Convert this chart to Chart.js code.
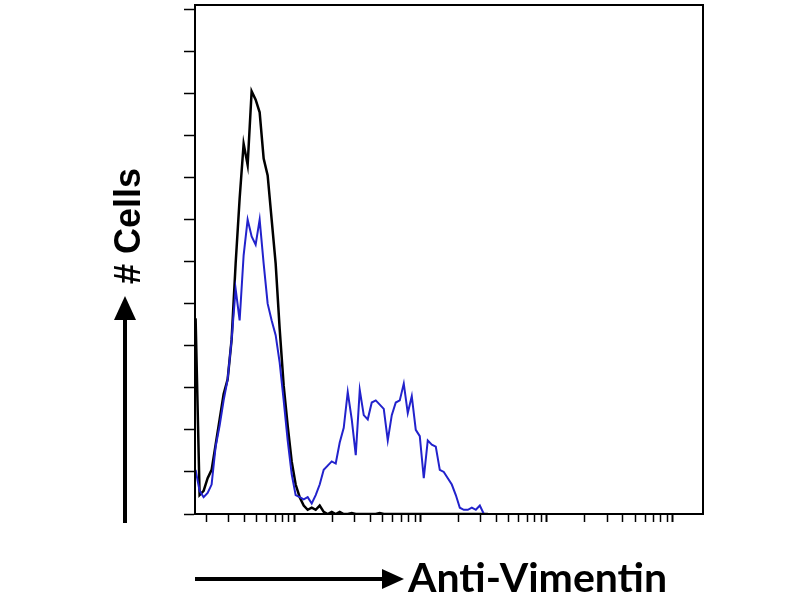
<!DOCTYPE html>
<html>
<head>
<meta charset="utf-8">
<script src="https://cdn.jsdelivr.net/npm/chart.js@4/dist/chart.umd.min.js"></script>
<style>
  html, body { margin: 0; padding: 0; background: #fff; }
  #wrap { width: 800px; height: 600px; }
</style>
</head>
<body>
<div id="wrap"><canvas id="histo" width="800" height="600"></canvas></div>
<script>
// fluorescence intensity of each histogram bin (log axis)
const intensity = [
    1.638, 1.762, 1.896, 2.040, 2.194, 2.361, 2.540, 2.733, 2.940, 3.162,
    3.402, 3.660, 3.937, 4.236, 4.557, 4.903, 5.275, 5.675, 6.105, 6.568,
    7.066, 7.603, 8.179, 8.799, 9.467, 10.18, 10.96, 11.79, 12.68, 13.65,
    14.68, 15.79, 16.99, 18.28, 19.67, 21.16, 22.76, 24.49, 26.35, 28.35,
    30.50, 32.81, 35.30, 37.97, 40.85, 43.95, 47.28, 50.87, 54.73, 58.88,
    63.34, 68.13, 73.30, 78.86, 84.84, 91.27, 98.19, 105.6, 113.6, 122.3,
    131.5, 141.5, 152.2, 163.8, 176.2, 189.6, 204.0, 219.4, 236.1, 254.0,
    273.3, 294.0, 316.2, 340.2
];

// control (black)
const controlCounts = [
    93, 9, 11, 17, 21, 33, 45, 57, 64, 83,
    119, 150, 176, 166, 201, 197, 191, 169, 161, 140,
    119, 88, 61, 42, 25, 14, 8, 4, 2, 3,
    2, 4, 1, 0, 1, 0, 1, 0, 0, 0.5,
    0, 0, 0, 0, 0, 0, 0.5, 0, 0, 0,
    0, 0, 0, 0, 0, 0, 0, 0, 0, 0,
    0, 0, 0, 0, 0, 0, 0, 0, 0, 0,
    0, 0, 0, 0
];

// anti-vimentin (blue)
const vimentinCounts = [
    21, 11, 8, 10, 14, 32, 42, 54, 64, 83,
    107, 92, 123, 140, 132, 128, 140, 119, 100, 92,
    85, 72, 54, 35, 19, 9, 8, 7, 8, 5,
    9, 14, 21, 23, 25, 24, 34, 41, 58, 45,
    28, 59, 47, 45, 53, 54, 52, 50, 35, 47,
    53, 54, 62, 48, 56, 40, 37, 17, 35, 33,
    32, 21, 20, 17, 14, 9, 3, 2, 2, 3,
    2, 4, 0, 0
];

const yTicks = [0, 20, 40, 60, 80, 100, 120, 140, 160, 180, 200, 220, 240];
const xDecades = [1, 10, 100, 1000, 10000];
const xSteps = [1, 2, 3, 4, 5, 6, 7, 8, 9];
const xMin = 1.62;
const xMax = 17300;
const yMax = 242;

const yLabel = '# Cells';
const xLabel = 'Anti-Vimentin';

function toPoints(counts) {
    return intensity.map((v, i) => ({ x: v, y: counts[i] }));
}

// frame, arrows and axis captions
const decorations = {
    id: 'decorations',
    afterDraw(chart) {
        const c = chart.ctx;
        const a = chart.chartArea;
        c.save();
        c.strokeStyle = '#000';
        c.fillStyle = '#000';
        c.lineWidth = 2;
        c.strokeRect(a.left, a.top, a.right - a.left, a.bottom - a.top);

        // up arrow
        c.lineWidth = 4;
        c.beginPath();
        c.moveTo(125, 523);
        c.lineTo(125, 315);
        c.stroke();
        c.beginPath();
        c.moveTo(125, 296);
        c.lineTo(136, 320);
        c.lineTo(114, 320);
        c.closePath();
        c.fill();

        // right arrow
        c.beginPath();
        c.moveTo(195, 579);
        c.lineTo(388, 579);
        c.stroke();
        c.beginPath();
        c.moveTo(404, 579);
        c.lineTo(382, 569);
        c.lineTo(382, 589);
        c.closePath();
        c.fill();

        c.font = 'bold 41px Lato';
        c.textAlign = 'left';
        c.textBaseline = 'alphabetic';
        c.fillText(xLabel, 408, 592);

        c.translate(140, 226);
        c.rotate(-Math.PI / 2);
        c.font = 'bold 36px "Liberation Sans"';
        c.textAlign = 'center';
        c.fillText(yLabel, 0, 0);
        c.restore();
    }
};

document.addEventListener('DOMContentLoaded', function() {
    const ctx = document.getElementById('histo').getContext('2d');

    new Chart(ctx, {
        type: 'line',
        data: {
            datasets: [
                {
                    label: 'Anti-Vimentin',
                    data: toPoints(vimentinCounts),
                    borderColor: '#2222cc',
                    borderWidth: 2,
                    pointRadius: 0,
                    tension: 0,
                    fill: false,
                    order: 0
                },
                {
                    label: 'Control',
                    data: toPoints(controlCounts),
                    borderColor: '#000000',
                    borderWidth: 2.5,
                    pointRadius: 0,
                    tension: 0,
                    fill: false,
                    order: 1
                }
            ]
        },
        options: {
            responsive: false,
            animation: false,
            layout: { padding: { left: 184, right: 97, top: 5, bottom: 78 } },
            plugins: {
                legend: { display: false },
                tooltip: { enabled: false }
            },
            scales: {
                x: {
                    type: 'logarithmic',
                    min: xMin,
                    max: xMax,
                    afterBuildTicks: scale => {
                        const list = [];
                        xDecades.forEach(d => xSteps.forEach(s => {
                            const v = d * s;
                            if (v >= xMin && v <= xMax) list.push({ value: v, major: s === 1 });
                        }));
                        scale.ticks = list;
                    },
                    ticks: { display: false },
                    grid: {
                        drawOnChartArea: false,
                        drawTicks: true,
                        tickLength: 8,
                        tickColor: '#000',
                        tickWidth: c => (c.tick && c.tick.major ? 2 : 1.5)
                    },
                    border: { display: true, color: '#000', width: 2 }
                },
                y: {
                    min: 0,
                    max: yMax,
                    afterBuildTicks: scale => {
                        scale.ticks = yTicks.map(v => ({ value: v }));
                    },
                    ticks: { display: false },
                    grid: {
                        drawOnChartArea: false,
                        drawTicks: true,
                        tickLength: 11,
                        tickColor: '#000',
                        tickWidth: 1.5
                    },
                    border: { display: true, color: '#000', width: 2 }
                }
            }
        },
        plugins: [decorations]
    });
});
</script>
</body>
</html>
